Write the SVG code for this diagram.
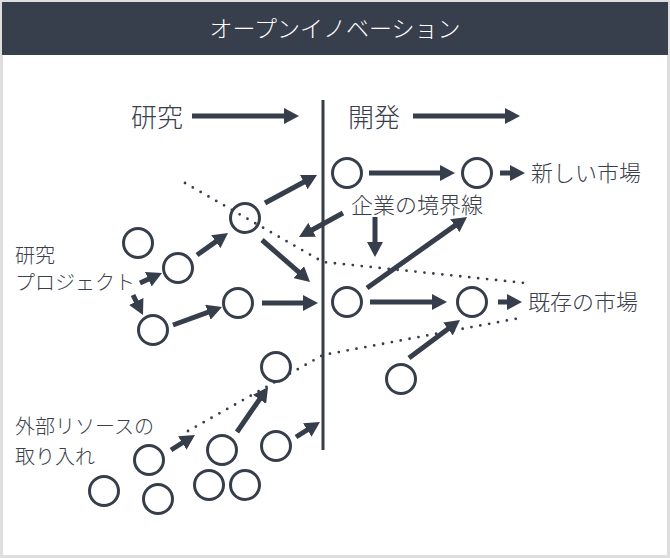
<svg xmlns="http://www.w3.org/2000/svg" width="670" height="558" viewBox="0 0 670 558">
<defs>
<marker id="ah" markerUnits="userSpaceOnUse" markerWidth="15" markerHeight="16" refX="7" refY="8" orient="auto">
<path d="M0,0 L15,8 L0,16 z" fill="#373e4b"/>
</marker>
<style>
.t{font-family:"Noto Sans CJK JP","Noto Sans",sans-serif;font-weight:300;fill:#3a404b}
.c{fill:#fff;stroke:#373e4b;stroke-width:3}
.a{stroke:#373e4b;stroke-width:5;fill:none;marker-end:url(#ah)}
.d{stroke:#373e4b;stroke-width:2.8;fill:none;stroke-dasharray:0 9;stroke-linecap:round}
</style>
</defs>
<rect x="1.5" y="1.5" width="667" height="555" fill="#fff" stroke="#dedede" stroke-width="3"/>
<g id="title">
<rect x="2" y="2" width="666" height="53" fill="#373e4c"/>
<text class="t" x="335" y="37" font-size="23" text-anchor="middle" style="fill:#fff">オープンイノベーション</text>
</g>
<g id="boundary">
<polyline class="d" points="185,183 323,262 525,283"/>
<polyline class="d" points="188,431 323,355 520,318"/>
<line x1="323" y1="100" x2="323" y2="450" stroke="#373e4b" stroke-width="3"/>
</g>
<g id="labels">
<text class="t" x="131" y="126.5" font-size="26">研究</text>
<text class="t" x="348" y="126.5" font-size="26">開発</text>
<text class="t" x="531" y="181.4" font-size="22">新しい市場</text>
<text class="t" x="351" y="213" font-size="22">企業の境界線</text>
<text class="t" x="528" y="310.4" font-size="22">既存の市場</text>
<text class="t" x="15" y="263" font-size="20">研究</text>
<text class="t" x="15" y="290" font-size="20">プロジェクト</text>
<text class="t" x="15" y="434" font-size="20">外部リソースの</text>
<text class="t" x="15" y="464" font-size="20">取り入れ</text>
</g>
<g id="connectors">
<line class="a" x1="192" y1="116" x2="291" y2="116"/>
<line class="a" x1="413" y1="116" x2="512" y2="116"/>
<line class="a" x1="369" y1="173" x2="447" y2="173"/>
<line class="a" x1="500" y1="173" x2="517" y2="173"/>
<line class="a" x1="375" y1="217" x2="375" y2="249"/>
<line class="a" x1="343" y1="213" x2="306" y2="233.2"/>
<line class="a" x1="367" y1="288" x2="460.5" y2="221.6"/>
<line class="a" x1="370" y1="302" x2="439" y2="302"/>
<line class="a" x1="498" y1="302" x2="514" y2="302"/>
<line class="a" x1="409" y1="358" x2="453.6" y2="324.8"/>
<line class="a" x1="140" y1="283" x2="154.7" y2="276.3"/>
<line class="a" x1="133" y1="295" x2="139.4" y2="307.8"/>
<line class="a" x1="197" y1="255" x2="221.5" y2="237.6"/>
<line class="a" x1="265" y1="203" x2="310" y2="178.8"/>
<line class="a" x1="262" y1="240" x2="304" y2="276.7"/>
<line class="a" x1="173" y1="325" x2="214.5" y2="309.8"/>
<line class="a" x1="262" y1="303" x2="310" y2="303"/>
<line class="a" x1="171" y1="450" x2="188.2" y2="439.2"/>
<line class="a" x1="237" y1="432" x2="263.5" y2="393.6"/>
<line class="a" x1="296" y1="437" x2="313.2" y2="426.2"/>
</g>
<g id="n1"><circle class="c" cx="347" cy="173" r="14.5"/></g>
<g id="n2"><circle class="c" cx="477" cy="173" r="14.5"/></g>
<g id="n3"><circle class="c" cx="138" cy="243" r="14.5"/></g>
<g id="n4"><circle class="c" cx="178" cy="268" r="14.5"/></g>
<g id="n5"><circle class="c" cx="245" cy="218" r="14.5" style="fill:none"/></g>
<g id="n6"><circle class="c" cx="153" cy="330" r="14.5"/></g>
<g id="n7"><circle class="c" cx="238" cy="303" r="14.5"/></g>
<g id="n8"><circle class="c" cx="347" cy="302" r="14.5"/></g>
<g id="n9"><circle class="c" cx="472" cy="302" r="14.5"/></g>
<g id="n10"><circle class="c" cx="401" cy="379" r="14.5"/></g>
<g id="n11"><circle class="c" cx="276" cy="367" r="14.5"/></g>
<g id="n12"><circle class="c" cx="149" cy="460" r="14.5"/></g>
<g id="n13"><circle class="c" cx="222" cy="450" r="14.5"/></g>
<g id="n14"><circle class="c" cx="276" cy="446" r="14.5"/></g>
<g id="n15"><circle class="c" cx="104" cy="491" r="14.5"/></g>
<g id="n16"><circle class="c" cx="158" cy="499" r="14.5"/></g>
<g id="n17"><circle class="c" cx="209" cy="485" r="14.5"/></g>
<g id="n18"><circle class="c" cx="245" cy="485" r="14.5"/></g>
</svg>
